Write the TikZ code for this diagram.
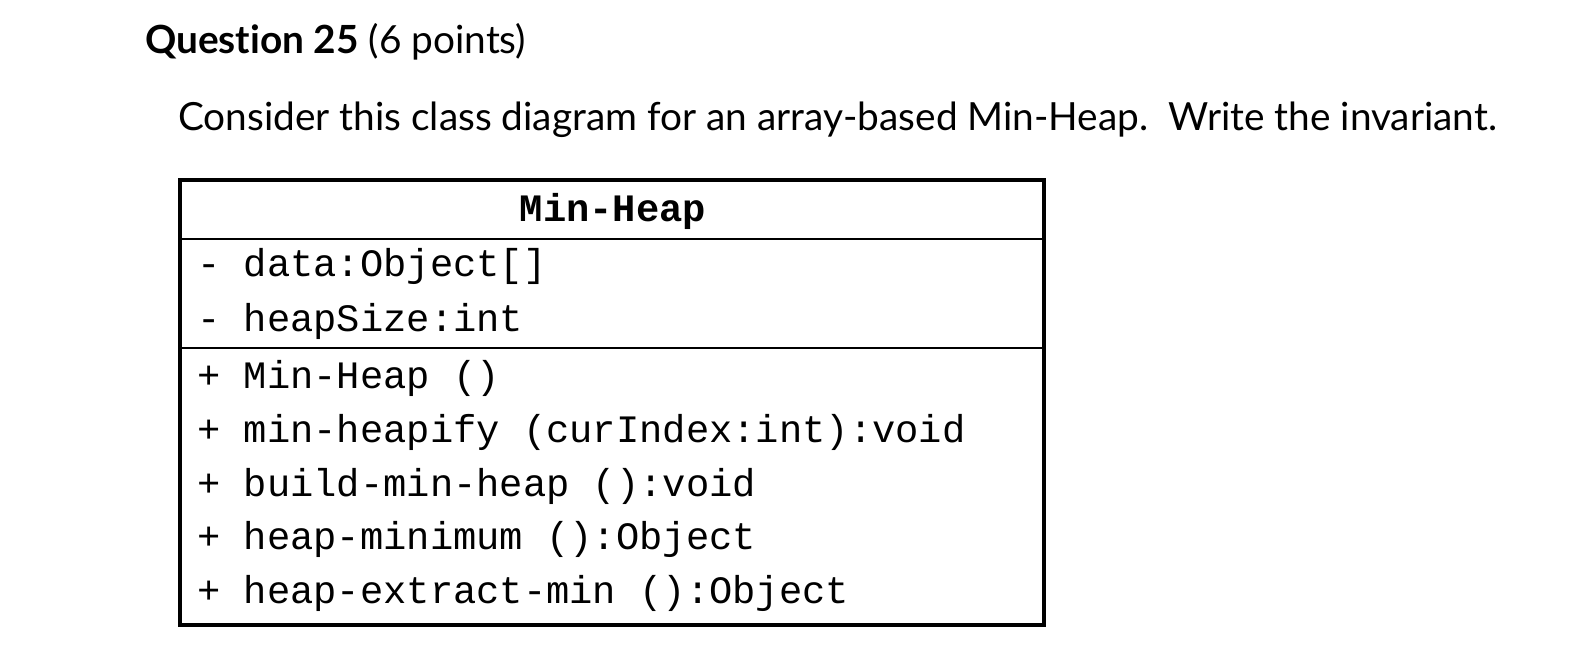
\documentclass[tikz,border=0pt]{standalone}
\usepackage{fontspec}
\setmainfont{Lato}[Ligatures=NoCommon]
\newfontfamily\mono{Liberation Mono}
\begin{document}
\begin{tikzpicture}[x=1pt,y=-1pt,
  txt/.style={anchor=base west,inner sep=0pt,font=\fontsize{38.8}{44}\selectfont},
  row/.style={anchor=base west,inner sep=0pt,font=\mono\fontsize{38.8}{44}\selectfont}]
\useasboundingbox[fill=white] (0,0) rectangle (1586,662);
\node[txt] (q) at (145,53) {\textbf{Question 25} (6 points)};
\node[txt] (c) at (178,130) {Consider this class diagram for an array-based Min-Heap.\ \ Write the invariant.};
\draw[line width=4pt] (180,180) rectangle (1044,625);
\draw[line width=1.5pt] (180,239) -- (1044,239);
\draw[line width=1.5pt] (180,348) -- (1044,348);
\node[row,anchor=base,font=\mono\bfseries\fontsize{38.8}{44}\selectfont] (t) at (613,221) {Min-Heap};
\node[row] (a1) at (197,276) {- data:Object[]};
\node[row] (a2) at (197,331) {- heapSize:int};
\node[row] (m1) at (197,388) {+ Min-Heap ()};
\node[row] (m2) at (197,442) {+ min-heapify (curIndex:int):void};
\node[row] (m3) at (197,496) {+ build-min-heap ():void};
\node[row] (m4) at (197,549) {+ heap-minimum ():Object};
\node[row] (m5) at (197,603) {+ heap-extract-min ():Object};
\end{tikzpicture}
\end{document}
